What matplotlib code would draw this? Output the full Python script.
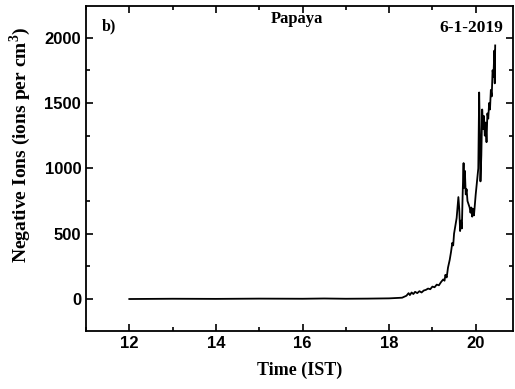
import matplotlib
matplotlib.use("Agg")
import matplotlib.pyplot as plt
from matplotlib.ticker import MultipleLocator

# Negative ion concentration, Papaya, 6-1-2019
time_ist = [12.0, 13.0, 14.0, 15.0, 16.0, 16.5, 17.0, 17.5, 18.0, 18.3,
            18.4, 18.45, 18.48, 18.52, 18.56, 18.6, 18.65, 18.7, 18.75, 18.8,
            18.85, 18.9, 18.95, 19.0, 19.05, 19.1, 19.15, 19.2, 19.25, 19.28,
            19.3, 19.33, 19.36, 19.4, 19.43, 19.46, 19.48, 19.5, 19.53, 19.56,
            19.6, 19.62, 19.64, 19.66, 19.68, 19.7, 19.72, 19.73, 19.75, 19.77,
            19.79, 19.81, 19.84, 19.86, 19.88, 19.9, 19.92, 19.94, 19.96, 19.98,
            20.0, 20.03, 20.06, 20.08, 20.1, 20.11, 20.13, 20.15, 20.17, 20.19,
            20.21, 20.23, 20.25, 20.27, 20.29, 20.31, 20.33, 20.35, 20.37, 20.39,
            20.41, 20.43, 20.44, 20.45]
neg_ions = [0, 2, 1, 3, 2, 4, 2, 3, 5, 10,
            25, 45, 30, 50, 38, 55, 45, 60, 50, 65,
            70, 80, 75, 95, 90, 110, 105, 130, 150, 140,
            185, 165, 240, 300, 360, 430, 410, 500, 560, 620,
            780, 690, 520, 600, 540, 820, 1040, 850, 980, 800,
            840, 750, 720, 700, 660, 700, 630, 690, 640, 720,
            800, 900, 1000, 1580, 1200, 900, 1100, 1450, 1300, 1400,
            1250, 1350, 1200, 1420, 1380, 1500, 1450, 1600, 1550, 1750,
            1700, 1900, 1650, 1940]

plt.rcParams["mathtext.fontset"] = "custom"
plt.rcParams["mathtext.rm"] = "Liberation Serif:bold"
plt.rcParams["mathtext.bf"] = "Liberation Serif:bold"

fig = plt.figure(figsize=(5.15, 3.89), dpi=100)
ax = fig.add_axes([0.167, 0.149, 0.829, 0.836])

ax.plot(time_ist, neg_ions, color="black", linewidth=1.3)

ax.set_xlim(11, 20.86)
ax.set_ylim(-245, 2243)
ax.xaxis.set_major_locator(MultipleLocator(2))
ax.xaxis.set_minor_locator(MultipleLocator(1))
ax.yaxis.set_major_locator(MultipleLocator(500))
ax.yaxis.set_minor_locator(MultipleLocator(250))
ax.tick_params(which="both", direction="in", top=True, right=True, width=1.2)
ax.tick_params(which="major", length=5)
ax.tick_params(which="minor", length=3)
for s in ax.spines.values():
    s.set_linewidth(1.3)

for lbl in ax.get_xticklabels() + ax.get_yticklabels():
    lbl.set_fontfamily("Liberation Sans")
    lbl.set_fontweight("bold")
    lbl.set_fontsize(12)

serif = "Liberation Serif"
ax.set_xlabel("Time (IST)", fontfamily=serif, fontweight="bold", fontsize=13, labelpad=8)
ax.set_ylabel("Negative Ions (ions per cm$^3$)", fontfamily=serif, fontweight="bold",
              fontsize=14)
ax.yaxis.set_label_coords(-0.124, 0.572)

ax.text(0.037, 0.926, "b)", transform=ax.transAxes, fontfamily=serif,
        fontweight="bold", fontsize=11.5, va="baseline")
ax.text(0.494, 0.948, "Papaya", transform=ax.transAxes, fontfamily=serif,
        fontweight="bold", fontsize=12, ha="center", va="baseline")
ax.text(0.977, 0.92, "6-1-2019", transform=ax.transAxes, fontfamily=serif,
        fontweight="bold", fontsize=12.5, ha="right", va="baseline")

fig.savefig("out.png", dpi=100)
